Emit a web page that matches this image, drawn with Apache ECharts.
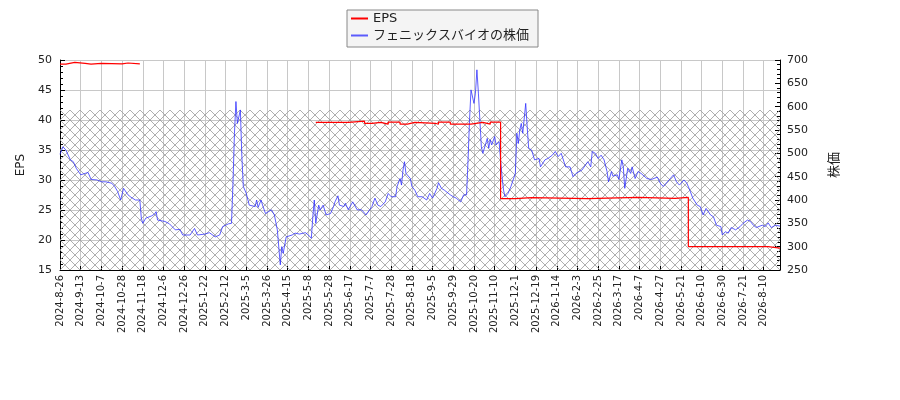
<!DOCTYPE html>
<html>
<head>
<meta charset="utf-8">
<script src="https://cdn.jsdelivr.net/npm/echarts@6/dist/echarts.min.js"></script>
<style>
  html, body { margin: 0; padding: 0; background: #fff; }
  #main { width: 900px; height: 400px; }
</style>
</head>
<body>
<div id="main"></div>
<script>
// x axis = trading day number, a label every 14 days
var tickLabels = ['2024-8-26','2024-9-13','2024-10-7','2024-10-28','2024-11-18','2024-12-6','2024-12-26',
  '2025-1-22','2025-2-12','2025-3-5','2025-3-26','2025-4-15','2025-5-8','2025-5-28','2025-6-17','2025-7-7',
  '2025-7-28','2025-8-18','2025-9-5','2025-9-29','2025-10-20','2025-11-10','2025-12-1','2025-12-19',
  '2026-1-14','2026-2-3','2026-2-25','2026-3-17','2026-4-7','2026-4-27','2026-5-21','2026-6-10',
  '2026-6-30','2026-7-21','2026-8-10'];
var lastDay = 487;

// stock price (right axis)
var priceDay = [0,2,4,7,9,11,14,17,19,21,25,28,31,35,37,39,41,43,46,48,51,54,55,56,58,62,64,65,66,71,74,78,81,83,88,91,93,98,101,105,108,110,114,116,117,118,119,120,122,123,124,126,128,132,133,134,136,137,139,141,143,145,147,149,150,151,153,157,159,162,166,168,170,171,172,173,175,176,178,180,183,185,186,188,189,192,193,195,198,201,204,207,211,213,215,217,220,222,224,227,228,230,231,232,233,234,237,238,240,242,245,246,248,250,252,255,256,258,260,264,266,268,271,273,275,276,277,278,280,281,282,283,284,285,286,289,290,291,292,294,295,297,298,299,300,301,303,305,308,309,310,311,312,313,315,316,317,319,321,324,325,328,330,333,335,337,339,342,345,347,349,353,355,357,359,360,362,364,366,368,370,371,373,374,377,378,380,381,382,384,386,387,389,391,393,397,400,404,406,408,412,415,417,419,422,424,426,428,431,433,435,437,440,442,444,447,448,450,452,454,457,460,462,465,467,469,471,475,477,479,481,484,487];
var price = [498,514,507,486,482,468,454,457,459,444,443,439,439,436,429,418,400,425,411,406,400,400,361,350,361,366,370,375,357,354,349,336,337,325,325,339,325,327,330,321,325,343,349,350,436,543,611,564,593,493,429,414,389,386,400,384,400,389,371,375,379,368,336,261,300,286,321,325,329,327,330,325,318,364,400,350,389,379,389,368,371,386,396,409,389,386,393,379,396,379,379,368,386,404,389,386,396,414,407,407,429,446,432,464,482,457,446,429,421,407,407,404,400,414,404,425,437,425,421,411,407,404,396,411,411,486,571,636,607,629,679,629,571,514,500,532,511,529,518,536,518,525,486,450,421,407,414,429,457,543,521,550,564,543,607,557,511,507,486,489,471,486,489,496,504,493,500,471,471,450,457,464,473,482,471,504,500,489,496,486,461,439,461,451,454,444,486,471,425,468,457,471,446,461,457,446,444,449,436,429,443,454,439,432,443,436,421,404,389,386,368,382,368,364,346,343,325,332,329,341,336,343,350,357,354,346,341,346,343,351,341,346,344];

// EPS (left axis), each value holds until the next day listed; null = no data
var epsDay = [0,4,10,17,21,28,42,46,54,54,173,195,206,211,217,222,230,235,240,254,256,264,278,286,291,298,308,319,357,391,416,425,479,487];
var eps = [49.3,49.6,49.45,49.3,49.45,49.35,49.5,49.35,49.35,null,39.6,39.8,39.45,39.6,39.3,39.65,39.3,39.6,39.45,39.3,39.65,39.3,39.6,39.3,39.65,26.9,27.05,26.9,27.1,26.95,27.1,18.9,18.65,18.65];

// top of the hatched band, in EPS units
var hatchTop = 41.67;

function zip(xs, ys) {
  return xs.map(function (x, i) { return [x, ys[i]]; });
}

// cross-hatch pattern
var pat = document.createElement('canvas');
pat.width = 10; pat.height = 10;
var ctx = pat.getContext('2d');
ctx.strokeStyle = '#9a9a9a';
ctx.lineWidth = 0.8;
ctx.beginPath();
ctx.moveTo(0, 0); ctx.lineTo(10, 10);
ctx.moveTo(10, 0); ctx.lineTo(0, 10);
ctx.stroke();

var font = "'DejaVu Sans', 'Noto Sans CJK JP', sans-serif";
var myChart = echarts.init(document.getElementById('main'));

var option = {
  animation: false,
  textStyle: { fontFamily: font },
  grid: { left: 60, right: 120, top: 60, bottom: 130 },
  legend: {
    data: ['EPS', 'フェニックスバイオの株価'],
    orient: 'vertical',
    left: 347, top: 10,
    padding: [2, 9, 5, 4],
    itemGap: 4,
    itemWidth: 17, itemHeight: 2,
    icon: 'rect',
    backgroundColor: '#f4f4f4',
    borderColor: '#888',
    borderWidth: 1,
    borderRadius: 0,
    textStyle: { fontFamily: font, fontSize: 13, color: '#222', lineHeight: 13 }
  },
  xAxis: {
    type: 'value',
    min: 0, max: lastDay, interval: 14,
    axisLine: { lineStyle: { color: '#000' } },
    axisTick: { inside: true, length: 4, lineStyle: { color: '#000' } },
    splitLine: { show: true, lineStyle: { color: '#c8c8c8' } },
    axisLabel: {
      rotate: 90, fontSize: 10, color: '#222', margin: 5,
      showMaxLabel: false,
      formatter: function (v) { return v % 14 === 0 ? (tickLabels[v / 14] || '') : ''; }
    }
  },
  yAxis: [{
    type: 'value', min: 15, max: 50, interval: 5,
    name: 'EPS', nameLocation: 'middle', nameGap: 33, nameRotate: 90,
    nameTextStyle: { fontSize: 12, color: '#222' },
    axisLine: { show: true, lineStyle: { color: '#000' } },
    axisTick: { show: true, inside: true, length: 5, lineStyle: { color: '#000' } },
    minorTick: { show: true, splitNumber: 5, length: 3, lineStyle: { color: '#000' } },
    splitLine: { show: true, lineStyle: { color: '#c8c8c8' } },
    axisLabel: { fontSize: 11, color: '#222', margin: 8 }
  }, {
    type: 'value', min: 250, max: 700, interval: 50,
    name: '株価', nameLocation: 'middle', nameGap: 48, nameRotate: 90,
    nameTextStyle: { fontSize: 13, color: '#222' },
    axisLine: { show: true, lineStyle: { color: '#000' } },
    axisTick: { show: true, inside: true, length: 5, lineStyle: { color: '#000' } },
    minorTick: { show: true, splitNumber: 5, length: 3, lineStyle: { color: '#000' } },
    splitLine: { show: false },
    axisLabel: { fontSize: 11, color: '#222', margin: 7 }
  }],
  series: [{
    name: 'hatch',
    type: 'line',
    yAxisIndex: 0,
    data: [[0, hatchTop], [lastDay, hatchTop]],
    symbol: 'none',
    silent: true,
    z: 1,
    lineStyle: { width: 0 },
    areaStyle: { origin: 'start', opacity: 1, color: { image: pat, repeat: 'repeat' } }
  }, {
    name: 'EPS',
    type: 'line',
    yAxisIndex: 0,
    data: zip(epsDay, eps),
    step: 'end',
    symbol: 'none',
    z: 3,
    color: '#ff0000',
    lineStyle: { width: 1.2, color: '#ff0000' }
  }, {
    name: 'フェニックスバイオの株価',
    type: 'line',
    yAxisIndex: 1,
    data: zip(priceDay, price),
    symbol: 'none',
    z: 2,
    color: 'rgba(40,40,255,0.75)',
    lineStyle: { width: 1, color: 'rgba(40,40,255,0.75)' }
  }]
};

myChart.setOption(option);
</script>
</body>
</html>
